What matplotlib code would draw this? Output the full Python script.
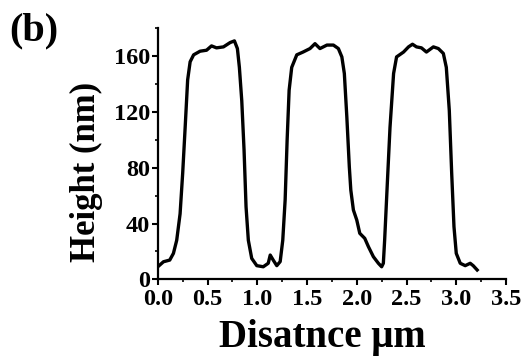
import matplotlib
matplotlib.use("Agg")
import matplotlib.pyplot as plt
from matplotlib.ticker import MultipleLocator

# Profile (distance in um, height in nm)
distance = [0.00, 0.057, 0.12, 0.157, 0.19, 0.224, 0.25, 0.275, 0.30, 0.325,
            0.36, 0.425, 0.49, 0.54, 0.59, 0.66, 0.727, 0.77, 0.80, 0.82,
            0.844, 0.867, 0.887, 0.91, 0.944, 0.995, 1.06, 1.11, 1.13, 1.16,
            1.196, 1.23, 1.256, 1.28, 1.30, 1.32, 1.346, 1.397, 1.46, 1.53,
            1.58, 1.63, 1.70, 1.765, 1.815, 1.85, 1.875, 1.90, 1.925, 1.94,
            1.966, 2.00, 2.03, 2.08, 2.117, 2.167, 2.217, 2.25, 2.267, 2.28,
            2.307, 2.334, 2.37, 2.40, 2.47, 2.52, 2.56, 2.60, 2.65, 2.70,
            2.77, 2.82, 2.87, 2.90, 2.93, 2.954, 2.977, 3.00, 3.04, 3.09,
            3.14, 3.17, 3.21]
height = [9, 12.6, 13.8, 18.6, 28, 47, 76, 109, 143, 156,
          161, 163.6, 164.3, 167.4, 166, 166.7, 169.8, 171, 165.5, 152,
          128, 92.7, 52, 28, 15, 9.8, 9, 11.5, 17.4, 13.8,
          9.8, 12.7, 28, 57, 100, 135.6, 152, 161, 163, 165.5,
          169, 165.5, 168, 168, 165.5, 159.5, 147.6, 116.5, 80.7, 64,
          49.7, 42.5, 33, 29.4, 23.4, 16.2, 11.5, 9, 11.5, 28,
          68.8, 109, 147.6, 159.5, 163, 166.7, 168.6, 166.7, 166, 163,
          166.7, 165.5, 162, 152, 121, 76, 37.7, 18.6, 11.5, 9.8,
          11.5, 9.8, 6.7]

x_ticks = [0.0, 0.5, 1.0, 1.5, 2.0, 2.5, 3.0, 3.5]
y_ticks = [0, 40, 80, 120, 160]

plt.rcParams['font.family'] = ['Liberation Serif', 'DejaVu Serif']
plt.rcParams['font.weight'] = 'bold'

fig = plt.figure(figsize=(5.26, 3.56), dpi=100)
ax = fig.add_axes([0.300, 0.2154, 0.662, 0.705])

ax.plot(distance, height, color='black', lw=2.4, solid_joinstyle='round')

ax.set_xlim(0, 3.5)
ax.set_ylim(0, 180)
ax.set_xticks(x_ticks)
ax.set_xticklabels([f'{v:.1f}' for v in x_ticks])
ax.set_yticks(y_ticks)
ax.xaxis.set_minor_locator(MultipleLocator(0.25))
ax.yaxis.set_minor_locator(MultipleLocator(20))

for side in ['top', 'right']:
    ax.spines[side].set_visible(False)
for side in ['left', 'bottom']:
    ax.spines[side].set_linewidth(1.6)

ax.tick_params(which='major', direction='out', length=4, width=1.5,
               labelsize=17.5, pad=1.5)
ax.tick_params(axis='x', which='major', pad=3)
ax.tick_params(which='minor', direction='out', length=2.5, width=1.2)
for lbl in ax.get_xticklabels() + ax.get_yticklabels():
    lbl.set_fontweight('bold')

# axis titles placed as in the reference (label block sits low / left)
fig.text(0.612, 0.025, 'Disatnce \u03bcm', fontsize=28, fontweight='bold',
         ha='center', va='baseline')
fig.text(0.1635, 0.517, 'Height (nm)', fontsize=25, fontweight='bold',
         rotation=90, ha='center', va='center')

fig.text(0.018, 0.965, '(b)', fontsize=29, fontweight='bold',
         ha='left', va='top')

fig.savefig('out.png', dpi=100)
